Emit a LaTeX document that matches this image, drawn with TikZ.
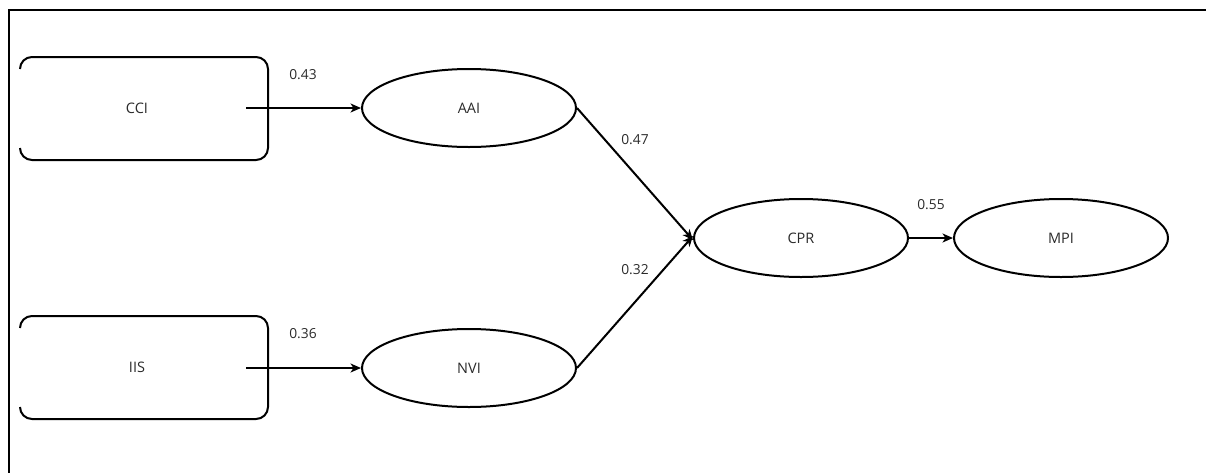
\documentclass[tikz,border=0pt]{standalone}
\usepackage{fontspec}
\setmainfont{Open Sans}
\usetikzlibrary{shapes.geometric,arrows.meta}
\definecolor{txt}{HTML}{2A2A2A}
\tikzset{
  var/.style={ellipse, draw=black, line width=2pt, minimum width=214pt, minimum height=78pt, inner sep=0pt, text=txt, font=\fontsize{14.5}{16}\selectfont},
  lbl/.style={text=txt, inner sep=0pt, font=\fontsize{14.5}{16}\selectfont},
  coef/.style={text=txt, inner sep=0pt, font=\fontsize{13.8}{16}\selectfont},
  link/.style={line width=2pt, -{Stealth[length=10.5pt,width=9pt,inset=3pt]}},
  boxline/.style={line width=2pt, rounded corners=12pt}
}
\begin{document}
\begin{tikzpicture}[x=1pt,y=-1pt]
\useasboundingbox (0,0) rectangle (1206,472);
\clip (0,0) rectangle (1206,472);
% outer frame
\draw[line width=2pt] (9,10) rectangle (1230,500);

% indicator boxes (open on the left)
\draw[boxline] (20,69) -- (20,57) -- (268,57) -- (268,160) -- (20,160) -- (20,148);
\draw[boxline] (20,328) -- (20,316) -- (268,316) -- (268,419) -- (20,419) -- (20,407);
\node[lbl] (cci) at (137,108) {CCI};
\node[lbl] (iis) at (137,367) {IIS};
\coordinate (cciout) at (246,108);
\coordinate (iisout) at (246,368);

% latent variables
\node[var] (aai) at (469,108) {AAI};
\node[var] (nvi) at (469,368) {NVI};
\node[var] (cpr) at (801,238) {CPR};
\node[var] (mpi) at (1061,238) {MPI};

% paths
\draw[link] (cciout) -- (aai.west);
\draw[link] (iisout) -- (nvi.west);
\draw[link] (aai.east) -- ([yshift=-2pt]cpr.west);
\draw[link] (nvi.east) -- ([yshift=2pt]cpr.west);
\draw[link] (cpr.east) -- (mpi.west);

% path coefficients
\node[coef] at (303,75) {0.43};
\node[coef] at (303,334) {0.36};
\node[coef] at (635,140) {0.47};
\node[coef] at (635,270) {0.32};
\node[coef] at (931,205) {0.55};
\end{tikzpicture}
\end{document}
